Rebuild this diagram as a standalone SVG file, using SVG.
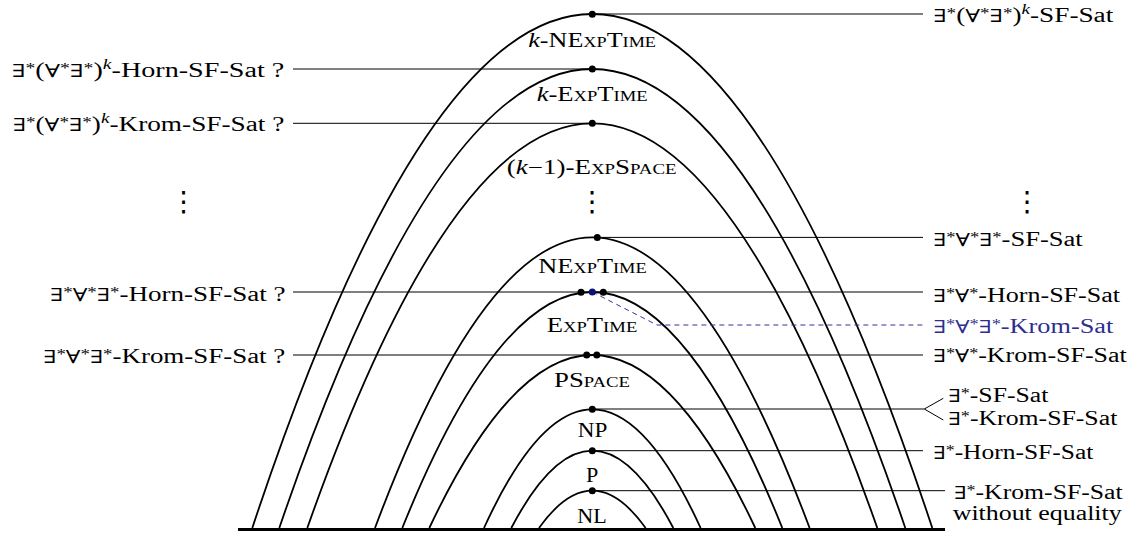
<svg xmlns="http://www.w3.org/2000/svg" width="1137" height="536" viewBox="0 0 1137 536">
<style>
.arc{fill:none;stroke:#000;stroke-width:1.8}
.base{fill:none;stroke:#000;stroke-width:3}
.ln{fill:none;stroke:#000;stroke-width:1}
.dash{fill:none;stroke:#33339a;stroke-width:1;stroke-dasharray:5 4}
.dot{fill:#000}
.bdot{fill:#10107a}
text{font-family:"Liberation Serif","DejaVu Serif",serif;font-size:20px;fill:#000}
.q{font-family:"DejaVu Serif",serif;font-size:18px}
.blue{fill:#2e2e8f}
.s{font-size:14px}
.k{font-size:14px;font-style:italic}
.it{font-style:italic}
.sc{font-variant:small-caps}
.vd{font-family:"DejaVu Sans",sans-serif;font-size:28px;text-anchor:middle}
</style>

<g id="classes">
<g id="k-nexptime"><path class="arc" d="M252.3 528 Q592.3 -500 932.3 528"/><text x="528.3" y="46.7" textLength="127.7" lengthAdjust="spacingAndGlyphs"><tspan class="it">k</tspan>-<tspan class="sc">NExpTime</tspan></text></g>
<g id="k-exptime"><path class="arc" d="M279.3 528 Q592.3 -390 905.3 528"/><text x="536.7" y="100.7" textLength="111" lengthAdjust="spacingAndGlyphs"><tspan class="it">k</tspan>-<tspan class="sc">ExpTime</tspan></text></g>
<g id="k1-expspace"><path class="arc" d="M307.3 528 Q592.3 -281.4 877.3 528"/><text x="506.7" y="174" textLength="170" lengthAdjust="spacingAndGlyphs">(<tspan class="it">k</tspan>−1)-<tspan class="sc">ExpSpace</tspan></text></g>
<g id="nexptime"><path class="arc" d="M375 528 Q592.3 -53.4 809.6 528"/><text x="538.3" y="273.3" textLength="108.4" lengthAdjust="spacingAndGlyphs" class="sc">NExpTime</text></g>
<g id="exptime"><path class="arc" d="M402.3 528 Q592.3 56 782.3 528"/><text x="546.7" y="331.7" textLength="90.6" lengthAdjust="spacingAndGlyphs" class="sc">ExpTime</text></g>
<g id="pspace"><path class="arc" d="M429.3 528 Q592.3 182 755.3 528"/><text x="554" y="386.7" textLength="76" lengthAdjust="spacingAndGlyphs" class="sc">PSpace</text></g>
<g id="np"><path class="arc" d="M484 528 Q592.3 290.6 700.6 528"/><text x="577.7" y="436.7" textLength="29.6" lengthAdjust="spacingAndGlyphs">NP</text></g>
<g id="p"><path class="arc" d="M511.3 528 Q592.3 373.4 673.3 528"/><text x="586" y="481.7" textLength="12.3" lengthAdjust="spacingAndGlyphs">P</text></g>
<g id="nl"><path class="arc" d="M539 528 Q592.3 453.4 645.6 528"/><text x="577.3" y="522.7" textLength="29.4" lengthAdjust="spacingAndGlyphs">NL</text></g>
<path id="baseline" class="base" d="M238 529.5 H945"/>
</g>

<g id="connectors">
<path class="ln" d="M592.3 14 H923"/>
<path class="ln" d="M293 69 H592.3"/>
<path class="ln" d="M293 123.3 H592.3"/>
<path class="ln" d="M597.3 237.4 H923"/>
<path class="ln" d="M293 292 H923"/>
<path class="dash" d="M592.3 292 L657 325 H923"/>
<path class="ln" d="M293 355 H923"/>
<path class="ln" d="M592.3 409 H924.3 L943.3 398.3 M924.3 409 L943.3 420"/>
<path class="ln" d="M592.3 450.7 H923"/>
<path class="ln" d="M592.3 490.7 H945"/>
</g>

<g id="points">
<circle class="dot" cx="592.3" cy="14.3" r="3.5"/>
<circle class="dot" cx="592.3" cy="69" r="3.5"/>
<circle class="dot" cx="592.3" cy="123.3" r="3.5"/>
<circle class="dot" cx="597.3" cy="237.5" r="3.5"/>
<circle class="dot" cx="581" cy="292.2" r="3.5"/>
<circle class="dot" cx="603.3" cy="292.2" r="3.5"/>
<circle class="bdot" cx="592.3" cy="292" r="3.5"/>
<circle class="dot" cx="586.7" cy="355" r="3.5"/>
<circle class="dot" cx="596.8" cy="355" r="3.5"/>
<circle class="dot" cx="592.3" cy="409.3" r="3.5"/>
<circle class="dot" cx="592.3" cy="450.7" r="3.5"/>
<circle class="dot" cx="592.3" cy="490.7" r="3.5"/>
</g>

<g id="left-labels">
<text id="l1" x="11.7" y="77" textLength="272.6" lengthAdjust="spacingAndGlyphs"><tspan class="q">∃</tspan><tspan class="s" dy="-4">*</tspan><tspan dy="4">(</tspan><tspan class="q">∀</tspan><tspan class="s" dy="-4">*</tspan><tspan class="q" dy="4">∃</tspan><tspan class="s" dy="-4">*</tspan><tspan dy="4">)</tspan><tspan class="k" dy="-8">k</tspan><tspan dy="8">-Horn-SF-Sat ?</tspan></text>
<text id="l2" x="12.7" y="131" textLength="271.6" lengthAdjust="spacingAndGlyphs"><tspan class="q">∃</tspan><tspan class="s" dy="-4">*</tspan><tspan dy="4">(</tspan><tspan class="q">∀</tspan><tspan class="s" dy="-4">*</tspan><tspan class="q" dy="4">∃</tspan><tspan class="s" dy="-4">*</tspan><tspan dy="4">)</tspan><tspan class="k" dy="-8">k</tspan><tspan dy="8">-Krom-SF-Sat ?</tspan></text>
<text id="l3" x="50" y="300.5" textLength="235.5" lengthAdjust="spacingAndGlyphs"><tspan class="q">∃</tspan><tspan class="s" dy="-4">*</tspan><tspan class="q" dy="4">∀</tspan><tspan class="s" dy="-4">*</tspan><tspan class="q" dy="4">∃</tspan><tspan class="s" dy="-4">*</tspan><tspan dy="4">-Horn-SF-Sat ?</tspan></text>
<text id="l4" x="43.3" y="363" textLength="242" lengthAdjust="spacingAndGlyphs"><tspan class="q">∃</tspan><tspan class="s" dy="-4">*</tspan><tspan class="q" dy="4">∀</tspan><tspan class="s" dy="-4">*</tspan><tspan class="q" dy="4">∃</tspan><tspan class="s" dy="-4">*</tspan><tspan dy="4">-Krom-SF-Sat ?</tspan></text>
</g>

<g id="right-labels">
<text id="r1" x="933.3" y="22" textLength="180" lengthAdjust="spacingAndGlyphs"><tspan class="q">∃</tspan><tspan class="s" dy="-4">*</tspan><tspan dy="4">(</tspan><tspan class="q">∀</tspan><tspan class="s" dy="-4">*</tspan><tspan class="q" dy="4">∃</tspan><tspan class="s" dy="-4">*</tspan><tspan dy="4">)</tspan><tspan class="k" dy="-8">k</tspan><tspan dy="8">-SF-Sat</tspan></text>
<text id="r2" x="933.3" y="246" textLength="149.4" lengthAdjust="spacingAndGlyphs"><tspan class="q">∃</tspan><tspan class="s" dy="-4">*</tspan><tspan class="q" dy="4">∀</tspan><tspan class="s" dy="-4">*</tspan><tspan class="q" dy="4">∃</tspan><tspan class="s" dy="-4">*</tspan><tspan dy="4">-SF-Sat</tspan></text>
<text id="r3" x="933.3" y="301.7" textLength="186.7" lengthAdjust="spacingAndGlyphs"><tspan class="q">∃</tspan><tspan class="s" dy="-4">*</tspan><tspan class="q" dy="4">∀</tspan><tspan class="s" dy="-4">*</tspan><tspan dy="4">-Horn-SF-Sat</tspan></text>
<text id="r4" class="blue" x="933.3" y="333" textLength="180" lengthAdjust="spacingAndGlyphs"><tspan class="q">∃</tspan><tspan class="s" dy="-4">*</tspan><tspan class="q" dy="4">∀</tspan><tspan class="s" dy="-4">*</tspan><tspan class="q" dy="4">∃</tspan><tspan class="s" dy="-4">*</tspan><tspan dy="4">-Krom-Sat</tspan></text>
<text id="r5" x="933.3" y="362" textLength="193.4" lengthAdjust="spacingAndGlyphs"><tspan class="q">∃</tspan><tspan class="s" dy="-4">*</tspan><tspan class="q" dy="4">∀</tspan><tspan class="s" dy="-4">*</tspan><tspan dy="4">-Krom-SF-Sat</tspan></text>
<text id="r6" x="948.3" y="401.7" textLength="100" lengthAdjust="spacingAndGlyphs"><tspan class="q">∃</tspan><tspan class="s" dy="-4">*</tspan><tspan dy="4">-SF-Sat</tspan></text>
<text id="r7" x="948.3" y="425" textLength="169" lengthAdjust="spacingAndGlyphs"><tspan class="q">∃</tspan><tspan class="s" dy="-4">*</tspan><tspan dy="4">-Krom-SF-Sat</tspan></text>
<text id="r8" x="933.3" y="459.3" textLength="160" lengthAdjust="spacingAndGlyphs"><tspan class="q">∃</tspan><tspan class="s" dy="-4">*</tspan><tspan dy="4">-Horn-SF-Sat</tspan></text>
<text id="r9" x="954" y="499.3" textLength="168.7" lengthAdjust="spacingAndGlyphs"><tspan class="q">∃</tspan><tspan class="s" dy="-4">*</tspan><tspan dy="4">-Krom-SF-Sat</tspan></text>
<text id="r10" x="952.7" y="519.5" textLength="169" lengthAdjust="spacingAndGlyphs">without equality</text>
</g>

<g id="ellipses">
<text class="vd" x="183.7" y="211">⋮</text>
<text class="vd" x="592.3" y="211">⋮</text>
<text class="vd" x="1027.3" y="211">⋮</text>
</g>
</svg>
